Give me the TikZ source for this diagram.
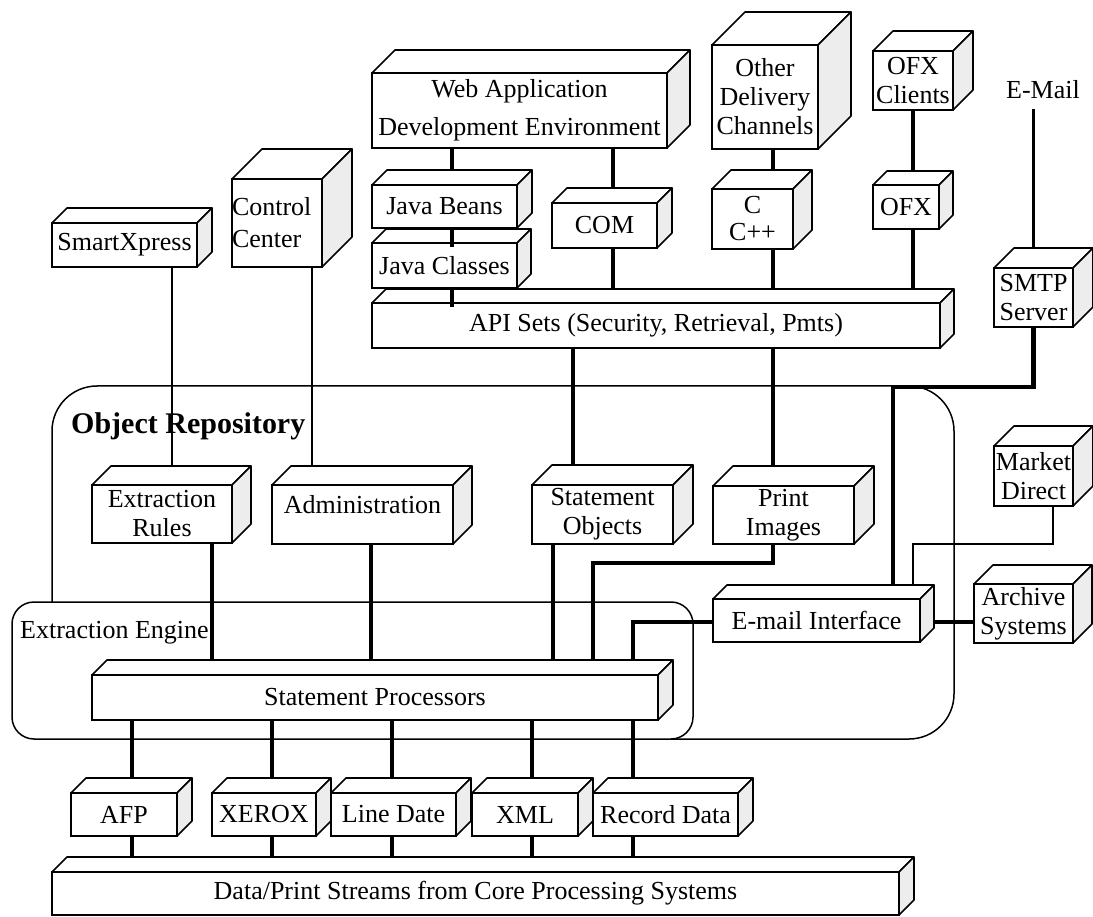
\documentclass[tikz,border=0pt]{standalone}
\usepackage{fontspec}
\setmainfont{Liberation Serif}
\usetikzlibrary{calc}
\pgfdeclarelayer{frames}
\pgfdeclarelayer{conn}
\pgfsetlayers{frames,conn,main}
\tikzset{
  frontbox/.style={draw, fill=white, line width=1.6pt, inner sep=0pt, outer sep=0pt, align=center, font=\fontsize{26}{29}\selectfont},
  topface/.style={draw, fill=white, line width=1.6pt, line join=round},
  sideface/.style={draw, fill=black!7, line width=1.6pt, line join=round},
  thickline/.style={line width=4.5pt},
  thinline/.style={line width=1.3pt},
  framestyle/.style={line width=1.5pt},
  lbl/.style={inner sep=0pt, font=\fontsize{26}{29}\selectfont},
}
\newcommand{\boxthreed}[8]{%
  \node[frontbox, minimum width=#4pt, minimum height=#5pt, #7] (#1) at (#2,#3) {#8};
  \draw[topface] (#1.north west) -- ++(#6,-#6) -- ($(#1.north east)+(#6,-#6)$) -- (#1.north east) -- cycle;
  \draw[sideface] (#1.north east) -- ++(#6,-#6) -- ($(#1.south east)+(#6,-#6)$) -- (#1.south east) -- cycle;
}
\begin{document}
\begin{tikzpicture}[x=1pt, y=-1pt]
\useasboundingbox (0,0) rectangle (1093,917);

% frames
\begin{pgfonlayer}{frames}
\draw[framestyle, rounded corners=45pt] (52,386) rectangle (954,739);
\draw[framestyle, fill=white, rounded corners=22pt] (12,602) rectangle (693,739);
\end{pgfonlayer}

% labels
\node[inner sep=0pt, anchor=base west, font=\bfseries\fontsize{30}{30}\selectfont] (orlabel) at (71,433) {Object Repository};
\node[lbl, anchor=base west] (eelabel) at (20,638) {Extraction Engine};
\node[lbl, anchor=base, inner sep=0pt] (emailtxt) at (1043,99) {E-Mail};

% boxes
\boxthreed{webapp}{519.5}{110.5}{295}{75}{23}{font=\fontsize{26}{38}\selectfont}{Web Application\\Development Environment}
\boxthreed{other}{765}{97}{106}{104}{33}{}{Other\\Delivery\\Channels}
\boxthreed{ofxc}{913}{80.5}{80}{59}{20}{}{OFX\\Clients}
\boxthreed{ofx}{906}{207}{66}{44}{14}{}{OFX}
\boxthreed{cpp}{752.5}{219}{81}{60}{19}{font=\fontsize{26}{27}\selectfont}{C\\C++}
\boxthreed{smtp}{1033.5}{297.5}{79}{59}{20}{}{SMTP\\Server}
\boxthreed{api}{656}{325.5}{568}{45}{14}{}{API Sets (Security, Retrieval, Pmts)}
\boxthreed{beans}{444.5}{206.5}{145}{43}{15}{}{Java Beans}
\boxthreed{classes}{444.5}{265.5}{145}{45}{14}{}{Java Classes}
\boxthreed{com}{604.5}{225.5}{105}{45}{15}{}{COM}
\boxthreed{smart}{124.5}{245}{145}{44}{15}{}{SmartXpress}
\boxthreed{control}{277}{223}{90}{88}{30}{text width=90pt, align=left, font=\fontsize{26}{32}\selectfont}{Control\\Center}
\boxthreed{rules}{162}{514}{140}{58}{19}{}{Extraction\\Rules}
\boxthreed{admin}{362.5}{514.5}{181}{59}{19}{}{Administration\\[-8pt]\mbox{}}
\boxthreed{stobj}{602.5}{514.5}{141}{59}{20}{}{Statement\\Objects}
\boxthreed{print}{783.5}{515}{141}{58}{20}{}{Print\\Images}
\boxthreed{market}{1033.5}{476}{79}{60}{20}{}{Market\\Direct}
\boxthreed{archive}{1023.5}{613.5}{99}{59}{19}{}{Archive\\Systems}
\boxthreed{emailif}{816.5}{620.5}{207}{43}{14}{}{E-mail Interface}
\boxthreed{sp}{375}{697.5}{566}{45}{15}{}{Statement Processors}
\boxthreed{afp}{124}{814.5}{106}{43}{15}{}{AFP}
\boxthreed{xerox}{264}{814.5}{104}{43}{15}{}{XEROX}
\boxthreed{linedate}{393.5}{814.5}{125}{43}{15}{}{Line Date}
\boxthreed{xml}{525}{814.5}{106}{43}{15}{}{XML}
\boxthreed{record}{665.5}{814.5}{145}{43}{15}{}{Record Data}
\boxthreed{data}{475.5}{893.5}{847}{43}{15}{}{Data/Print Streams from Core Processing Systems}

% connectors
\begin{pgfonlayer}{conn}
\coordinate (xjb) at (452,0);
\coordinate (xcom) at (613,0);
\coordinate (xc) at (773,0);
\coordinate (xofx) at (913,0);
\coordinate (xso) at (573,0);
\coordinate (xsp) at (553,0);
\coordinate (xru) at (212,0);
\coordinate (xad) at (371,0);
\coordinate (xsm) at (172,0);
\coordinate (xcc) at (312,0);
\coordinate (xmd) at (1053,0);
\coordinate (j1) at (893,387);
\coordinate (j2) at (593,563);
\coordinate (j3) at (633,622);
\coordinate (j4) at (913,544);
\draw[thickline] (webapp.south -| xjb) -- (api.north -| xjb);
\draw[thickline] (webapp.south -| xcom) -- (api.north -| xcom);
\draw[thickline] (other.south -| xc) -- (api.north -| xc);
\draw[thickline] (ofxc.south -| xofx) -- (api.north -| xofx);
\draw[line width=3.8pt] ($(emailtxt.south -| smtp)+(0,10)$) -- (smtp.north);
\draw[thickline] (smtp.south) |- (j1) -- (emailif.north -| j1);
\draw[thickline] (api.south -| xso) -- (stobj.north -| xso);
\draw[thickline] (api.south -| xc) -- (print.north -| xc);
\draw[thickline] (print.south -| xc) |- (j2) -- (sp.north -| j2);
\draw[thickline] (stobj.south -| xsp) -- (sp.north -| xsp);
\draw[thickline] (rules.south -| xru) -- (sp.north -| xru);
\draw[thickline] (admin.south -| xad) -- (sp.north -| xad);
\draw[thickline] (emailif.west |- j3) -- (j3) -- (sp.north -| j3);
\draw[thickline] (emailif.east |- j3) -- (archive.west |- j3);
\foreach \n/\x in {afp/132, xerox/272, linedate/392, xml/532, record/633} {
  \coordinate (b\n) at (\x,0);
  \draw[thickline] (sp.south -| b\n) -- (\n.north -| b\n);
  \draw[thickline] (\n.south -| b\n) -- (data.north -| b\n);
}
\draw[thinline] (smart.south -| xsm) -- (rules.north -| xsm);
\draw[thinline] (control.south -| xcc) -- (admin.north -| xcc);
\draw[thinline] (market.south -| xmd) |- (j4) -- (emailif.north -| j4);
\end{pgfonlayer}

% segments drawn over the top faces (Java column)
\draw[thickline] (beans.south -| xjb) -- ($(classes.north -| xjb)+(0,4)$);
\draw[thickline] (classes.south -| xjb) -- ($(api.north -| xjb)+(0,4)$);
\end{tikzpicture}
\end{document}
